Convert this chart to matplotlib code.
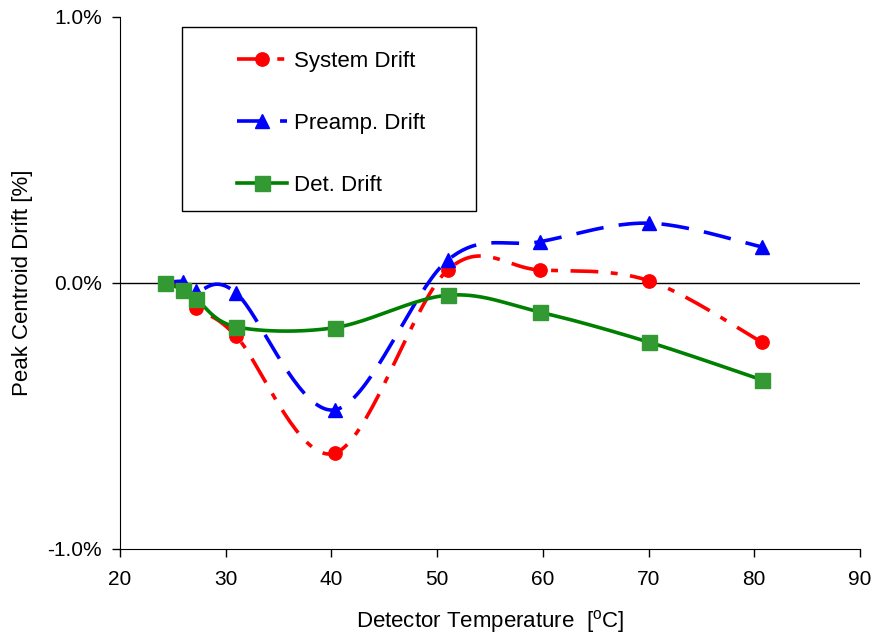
import numpy as np
import matplotlib
matplotlib.use("Agg")
import matplotlib.pyplot as plt
from matplotlib.lines import Line2D
from matplotlib.patches import Rectangle

plt.rcParams['font.family'] = ['Liberation Sans', 'DejaVu Sans']
plt.rcParams['lines.scale_dashes'] = False

temp = [24.3, 26.0, 27.2, 31.0, 40.3, 51.0, 59.7, 70.0, 80.7]
system_drift = [0.0, -0.02, -0.094, -0.20, -0.64, 0.049, 0.049, 0.009, -0.222]
preamp_drift = [0.0, 0.005, -0.03, -0.038, -0.477, 0.086, 0.155, 0.225, 0.136]
det_drift = [0.0, -0.026, -0.06, -0.165, -0.168, -0.046, -0.109, -0.222, -0.364]
labels = ['System Drift', 'Preamp. Drift', 'Det. Drift']


def smooth(x, y, n=40):
    # excel-like smoothed line (bezier through points), done in screen-ish units
    sx, sy = 10.57, 266.0
    P = np.column_stack([np.asarray(x) * sx, np.asarray(y) * sy])
    ext = np.vstack([P[0], P, P[-1]])
    segs = []
    t = np.linspace(0, 1, n)[:, None]
    for i in range(len(P) - 1):
        p0, p1, p2, p3 = ext[i], ext[i + 1], ext[i + 2], ext[i + 3]
        c1 = p1 + (p2 - p0) / 6
        c2 = p2 - (p3 - p1) / 6
        segs.append((1 - t)**3 * p1 + 3 * (1 - t)**2 * t * c1 + 3 * (1 - t) * t**2 * c2 + t**3 * p2)
    s = np.vstack(segs)
    return s[:, 0] / sx, s[:, 1] / sy


fig = plt.figure(figsize=(8.75, 6.34), dpi=100)
ax = fig.add_axes([120 / 875, 1 - 549 / 634, 740 / 875, 532 / 634])

ax.axhline(0, color='black', lw=1.0, zorder=1)

red_dash = (0, (20, 9, 5, 9))
blue_dash = (0, (20, 11))
lw = 2.6

sx, sy = smooth(temp, system_drift)
ax.plot(sx, sy, color='#ff0000', lw=lw, linestyle=red_dash, zorder=2)
ax.plot(temp, system_drift, 'o', color='#ff0000', ms=9.6, zorder=3)

px, py = smooth(temp, preamp_drift)
ax.plot(px, py, color='#0000ff', lw=lw, linestyle=blue_dash, zorder=4)
ax.plot(temp, preamp_drift, '^', color='#0000ff', ms=9.6, zorder=5)

dx, dy = smooth(temp, det_drift)
ax.plot(dx, dy, color='#008000', lw=lw, zorder=6)
ax.plot(temp, det_drift, 's', color='#339933', ms=10.8, zorder=7)

ax.set_xlim(20, 90)
ax.set_ylim(-1.0, 1.0)
ax.set_xticks(range(20, 91, 10))
ax.set_yticks([-1.0, 0.0, 1.0])
ax.set_yticklabels(['{:.1f}%'.format(v) for v in [-1.0, 0.0, 1.0]])
ax.spines['top'].set_visible(False)
ax.spines['right'].set_visible(False)
ax.tick_params(direction='out', length=6, width=1, labelsize=15)
ax.tick_params(axis='x', pad=9)
ax.tick_params(axis='y', pad=7)
ax.set_xlabel(r'Detector Temperature  [$^\mathregular{o}$C]', fontsize=16, labelpad=14)
ax.set_ylabel('Peak Centroid Drift [%]', fontsize=16, labelpad=10)

# legend box (drawn separately to get Excel-like padding)
ax.add_patch(Rectangle(((182 - 120) / 740, (549 - 211) / 532), (476 - 182) / 740, (211 - 27) / 532,
                       transform=ax.transAxes, facecolor='white', edgecolor='black',
                       lw=1.0, zorder=8))
handles = [
    Line2D([], [], color='#ff0000', lw=lw, linestyle=red_dash, marker='o', ms=9.6),
    Line2D([], [], color='#0000ff', lw=lw, linestyle=blue_dash, marker='^', ms=9.6),
    Line2D([], [], color='#008000', lw=lw, marker='s', ms=10.8,
           markerfacecolor='#339933', markeredgecolor='#339933'),
]
leg = ax.legend(handles, labels, loc='upper left',
                bbox_to_anchor=((237 - 120) / 740, (549 - 51) / 532), fontsize=16,
                frameon=False, labelspacing=1.84, borderpad=0, handlelength=2.25,
                handletextpad=0.3, borderaxespad=0)
leg.set_zorder(9)

fig.savefig('out.png', dpi=100)
